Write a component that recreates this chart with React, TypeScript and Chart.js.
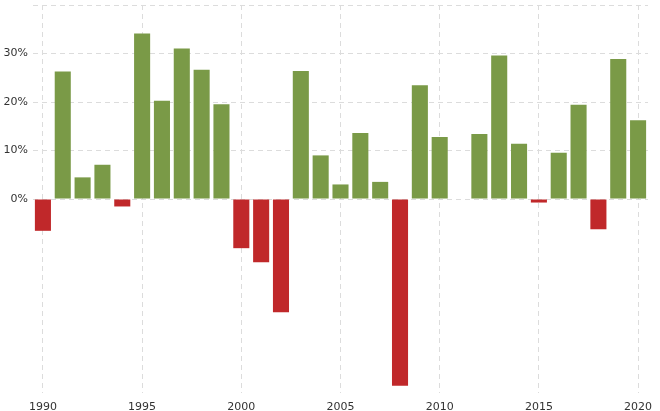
import React, { useEffect, useRef } from "react";
import { Chart, registerables } from "chart.js";

Chart.register(...registerables);

const years: string[] = [
  "1990","1991","1992","1993","1994","1995","1996","1997","1998","1999",
  "2000","2001","2002","2003","2004","2005","2006","2007","2008","2009",
  "2010","2011","2012","2013","2014","2015","2016","2017","2018","2019","2020",
];
const returnsPct: number[] = [
  -6.56, 26.31, 4.46, 7.06, -1.54, 34.11, 20.26, 31.01, 26.67, 19.53,
  -10.14, -13.04, -23.37, 26.38, 8.99, 3.0, 13.62, 3.53, -38.49, 23.45,
  12.78, -0.1, 13.41, 29.6, 11.39, -0.73, 9.54, 19.42, -6.24, 28.88, 16.26,
];
const yTickValues: number[] = [0, 10, 20, 30, 40];

const GREEN = "#7a9a47";
const RED = "#c0282a";
const GRID = "#dcdcdc";

export default function App() {
  const ref = useRef<HTMLCanvasElement | null>(null);
  useEffect(() => {
    document.body.style.margin = "0";
    const canvas = ref.current;
    if (!canvas) return;
    const chart = new Chart(canvas, {
      type: "bar",
      data: {
        labels: years,
        datasets: [
          {
            data: returnsPct,
            backgroundColor: returnsPct.map((v) => (v >= 0 ? GREEN : RED)),
            barPercentage: 0.81,
            categoryPercentage: 1,
          },
        ],
      },
      options: {
        animation: false,
        responsive: false,
        maintainAspectRatio: false,
        layout: { padding: { left: 0, right: 12, top: 0, bottom: 0 } },
        plugins: { legend: { display: false }, tooltip: { enabled: false } },
        scales: {
          x: {
            offset: true,
            grid: {
              offset: false,
              drawTicks: false,
              color: (ctx: any) =>
                ctx.index !== undefined && Number(years[ctx.index]) % 5 === 0 ? GRID : "rgba(0,0,0,0)",
              lineWidth: 1,
            },
            border: { display: false, dash: [5, 4] },
            ticks: {
              autoSkip: false,
              maxRotation: 0,
              padding: 8,
              color: "#333",
              font: { family: "DejaVu Sans", size: 11 },
              callback: (_v: any, i: number) => (Number(years[i]) % 5 === 0 ? years[i] : ""),
            },
            afterFit: (s: any) => {
              s.height = 18;
              s.paddingLeft = 0;
              s.paddingRight = 0;
            },
          } as any,
          y: {
            min: -40,
            max: 40,
            border: { display: false, dash: [5, 4] },
            afterBuildTicks: (s: any) => {
              s.ticks = [-40, -30, -20, -10, ...yTickValues].map((v) => ({ value: v }));
            },
            grid: {
              drawTicks: false,
              color: (ctx: any) =>
                ctx.tick && yTickValues.includes(ctx.tick.value) ? GRID : "rgba(0,0,0,0)",
            },
            ticks: {
              padding: 5,
              color: "#333",
              font: { family: "DejaVu Sans", size: 11 },
              callback: (v: any) => (Number(v) >= 0 && Number(v) < 40 ? v + "%" : ""),
            },
            afterFit: (s: any) => {
              s.width = 33;
              s.paddingTop = 5;
              s.paddingBottom = 0;
            },
          } as any,
        },
      },
    });
    return () => chart.destroy();
  }, []);
  return (
    <div style={{ width: 660, height: 411 }}>
      <canvas ref={ref} width={660} height={411} style={{ display: "block" }} />
    </div>
  );
}
